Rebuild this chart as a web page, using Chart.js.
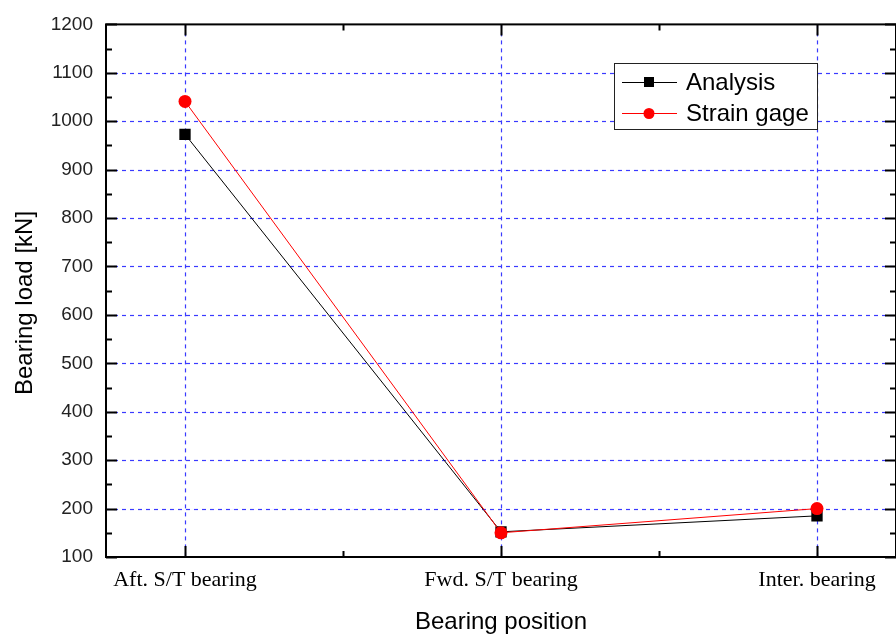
<!DOCTYPE html>
<html>
<head>
<meta charset="utf-8">
<script src="https://cdn.jsdelivr.net/npm/chart.js@4/dist/chart.umd.min.js"></script>
<style>
html,body{margin:0;padding:0;background:#fff;overflow:hidden;width:896px;height:642px;}
canvas{display:block;}
</style>
</head>
<body>
<canvas id="c" width="904" height="642"></canvas>
<script>
// ---- data ----
const categories = ["Aft. S/T bearing", "Fwd. S/T bearing", "Inter. bearing"];
const analysis = [973, 152, 185];
const strainGage = [1041, 150, 200];
const seriesNames = ["Analysis", "Strain gage"];
const yMin = 100, yMax = 1200, yStep = 100;
const xTitle = "Bearing position";
const yTitle = "Bearing load [kN]";

const GRID_BLUE = '#3a3aff';
const SANS = '"Liberation Sans", Arial, sans-serif';

const gridPlugin = {
  id: 'dashGrid',
  beforeDatasetsDraw(chart) {
    const ctx = chart.ctx;
    const {left, right, top, bottom} = chart.chartArea;
    const xs = chart.scales.x, ys = chart.scales.y;
    ctx.save();
    ctx.strokeStyle = GRID_BLUE;
    ctx.lineWidth = 1.2;
    ctx.setLineDash([4, 4]);
    for (let i = 0; i < categories.length; i++) {
      const px = Math.round(xs.getPixelForValue(i)) + 0.5;
      ctx.beginPath(); ctx.moveTo(px, top); ctx.lineTo(px, bottom); ctx.stroke();
    }
    for (let v = yMin + yStep; v < yMax; v += yStep) {
      const py = Math.round(ys.getPixelForValue(v)) + 0.5;
      ctx.beginPath(); ctx.moveTo(left, py); ctx.lineTo(right, py); ctx.stroke();
    }
    ctx.restore();
  }
};

const framePlugin = {
  id: 'frame',
  afterDatasetsDraw(chart) {
    const ctx = chart.ctx;
    const {left, right, top, bottom} = chart.chartArea;
    const xs = chart.scales.x, ys = chart.scales.y;
    ctx.save();
    ctx.strokeStyle = '#000';
    ctx.lineWidth = 2;
    ctx.strokeRect(left, top, right - left, bottom - top);
    for (let v = 0; v <= categories.length - 1; v += 0.5) {
      const px = Math.round(xs.getPixelForValue(v)) + 0.5;
      const len = Number.isInteger(v) ? 11 : 6;
      ctx.beginPath();
      ctx.moveTo(px, bottom); ctx.lineTo(px, bottom - len);
      ctx.moveTo(px, top); ctx.lineTo(px, top + len);
      ctx.stroke();
    }
    for (let v = yMin; v <= yMax; v += yStep / 2) {
      const py = Math.round(ys.getPixelForValue(v)) + 0.5;
      const len = ((v - yMin) % yStep === 0) ? 11 : 6;
      ctx.beginPath();
      ctx.moveTo(left, py); ctx.lineTo(left + len, py);
      ctx.moveTo(right, py); ctx.lineTo(right - len, py);
      ctx.stroke();
    }
    // y axis title
    ctx.fillStyle = '#000';
    ctx.font = '24px ' + SANS;
    ctx.textAlign = 'center';
    ctx.textBaseline = 'middle';
    ctx.translate(25, 303);
    ctx.rotate(-Math.PI / 2);
    ctx.fillText(yTitle, 0, 0);
    ctx.restore();
  }
};

const legendPlugin = {
  id: 'boxLegend',
  afterDraw(chart) {
    const ctx = chart.ctx;
    const bx = 614, by = 63, bw = 203, bh = 66;
    ctx.save();
    ctx.fillStyle = '#fff';
    ctx.fillRect(bx, by, bw, bh);
    ctx.strokeStyle = '#222';
    ctx.lineWidth = 1;
    ctx.strokeRect(bx + 0.5, by + 0.5, bw, bh);
    const rows = [82, 113];
    chart.data.datasets.forEach((ds, i) => {
      const y = rows[i];
      ctx.strokeStyle = ds.borderColor;
      ctx.lineWidth = 1;
      ctx.beginPath();
      ctx.moveTo(622, y + 0.5); ctx.lineTo(677, y + 0.5);
      ctx.stroke();
      ctx.fillStyle = ds.backgroundColor;
      if (ds.pointStyle === 'rect') {
        ctx.fillRect(644, y - 5, 10, 10);
      } else {
        ctx.beginPath();
        ctx.arc(649, y + 0.5, 5.5, 0, Math.PI * 2);
        ctx.fill();
      }
      ctx.fillStyle = '#000';
      ctx.font = '24px ' + SANS;
      ctx.textBaseline = 'middle';
      ctx.textAlign = 'left';
      ctx.fillText(ds.label, 686, y + 1);
    });
    ctx.restore();
  }
};

const toPoints = arr => arr.map((v, i) => ({x: i, y: v}));

new Chart(document.getElementById('c'), {
  type: 'line',
  data: {
    datasets: [
      {
        label: seriesNames[0],
        data: toPoints(analysis),
        borderColor: '#000',
        backgroundColor: '#000',
        borderWidth: 1,
        pointStyle: 'rect',
        pointRadius: 8,
        pointBorderWidth: 0,
        order: 1
      },
      {
        label: seriesNames[1],
        data: toPoints(strainGage),
        borderColor: '#ff0000',
        backgroundColor: '#ff0000',
        borderWidth: 1,
        pointStyle: 'circle',
        pointRadius: 6.5,
        pointBorderWidth: 0,
        order: 0
      }
    ]
  },
  options: {
    responsive: false,
    animation: false,
    devicePixelRatio: 1,
    layout: {padding: {left: 0, top: 22, right: 3, bottom: 0}},
    plugins: {legend: {display: false}, tooltip: {enabled: false}},
    scales: {
      x: {
        type: 'linear',
        min: -0.25,
        max: categories.length - 0.75,
        afterFit(s) { s.height = 85; },
        afterBuildTicks(s) {
          const t = [];
          for (let v = 0; v <= categories.length - 1; v += 0.5) t.push({value: v});
          s.ticks = t;
        },
        ticks: {
          autoSkip: false,
          maxRotation: 0,
          padding: 10,
          color: '#000',
          font: {family: '"Liberation Serif", "Times New Roman", serif', size: 22},
          callback: v => Number.isInteger(v) ? categories[v] : ''
        },
        grid: {display: false, drawTicks: false},
        border: {display: false},
        title: {
          display: true,
          text: xTitle,
          color: '#000',
          font: {family: SANS, size: 24},
          padding: {top: 0, bottom: 5}
        }
      },
      y: {
        type: 'linear',
        min: yMin,
        max: yMax,
        afterFit(s) { s.width = 106; },
        ticks: {
          stepSize: yStep,
          padding: 13,
          color: '#222',
          font: {family: SANS, size: 19},
          callback: v => String(v)
        },
        grid: {display: false, drawTicks: false},
        border: {display: false}
      }
    }
  },
  plugins: [gridPlugin, framePlugin, legendPlugin]
});
</script>
</body>
</html>
